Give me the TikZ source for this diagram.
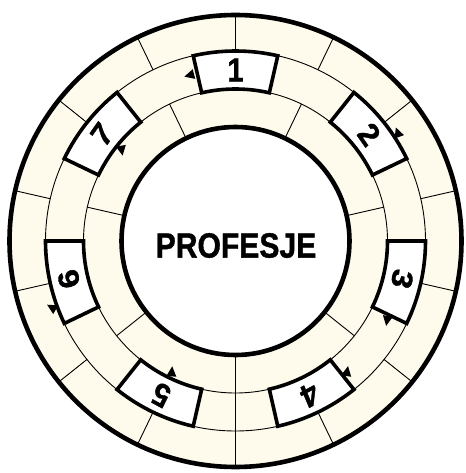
\documentclass[tikz,border=0pt]{standalone}
\usepackage{fontspec}
\setmainfont[BoldFeatures={FakeBold=1.2}]{Liberation Sans}
\definecolor{cream}{RGB}{255,251,236}
\begin{document}
\begin{tikzpicture}[x=1pt,y=1pt,
  thickline/.style={line width=4.6pt},
  thinline/.style={line width=0.9pt},
  boxline/.style={line width=3.6pt, fill=white, line join=miter},
  num/.style={font=\bfseries\fontsize{33}{33}\selectfont, inner sep=0pt, xscale=0.88},
  title/.style={font=\bfseries\fontsize{35}{35}\selectfont, inner sep=0pt, xscale=0.86},
  marker/.style={fill=black}
]
\useasboundingbox (-235.5,-232) rectangle (229.5,241);
\coordinate (O) at (0,0);
\fill[cream] (O) circle (226);
\fill[white] (O) circle (114);
% outer ring spokes
\foreach \k in {0,...,13}
  \draw[thinline] ({90+\k*25.7143}:190) -- ({90+\k*25.7143}:226);
% inner ring spokes
\foreach \k in {0,...,6}
  \draw[thinline] ({90+25.7143+\k*51.4286}:114) -- ({90+25.7143+\k*51.4286}:152);
% middle ring spoke
\draw[thinline] (270:152) -- (270:190);
\draw[thinline] (O) circle (190);
\draw[thinline] (O) circle (152);
% boxes
\foreach \n [count=\i from 0] in {1,...,7}{
  \pgfmathsetmacro{\a}{90-\i*51.4286}
  \draw[boxline] ({\a-12.857}:152) arc[start angle={\a-12.857}, end angle={\a+12.857}, radius=152]
     -- ({\a+12.857}:190) arc[start angle={\a+12.857}, end angle={\a-12.857}, radius=190] -- cycle;
  \node[num, rotate={\a-90}] (n\n) at (\a:171) {\n};
}
\draw[thickline] (O) circle (226);
\draw[thickline] (O) circle (114);
\node[title] (t) at (0.5,-4.5) {PROFESJE};
% direction markers
\foreach \p/\d in {{(105.3:172)}/195, {(33.6:195)}/110, {(-27.5:171)}/-100, {(-49.6:172)}/80,
                   {(244.1:146)}/85, {(200:195)}/150, {(141.3:146)}/-80}{
  \fill[marker, shift={\p}, rotate=\d] (6,0) -- (-4,5) -- (-4,-5) -- cycle;
}
\end{tikzpicture}
\end{document}
